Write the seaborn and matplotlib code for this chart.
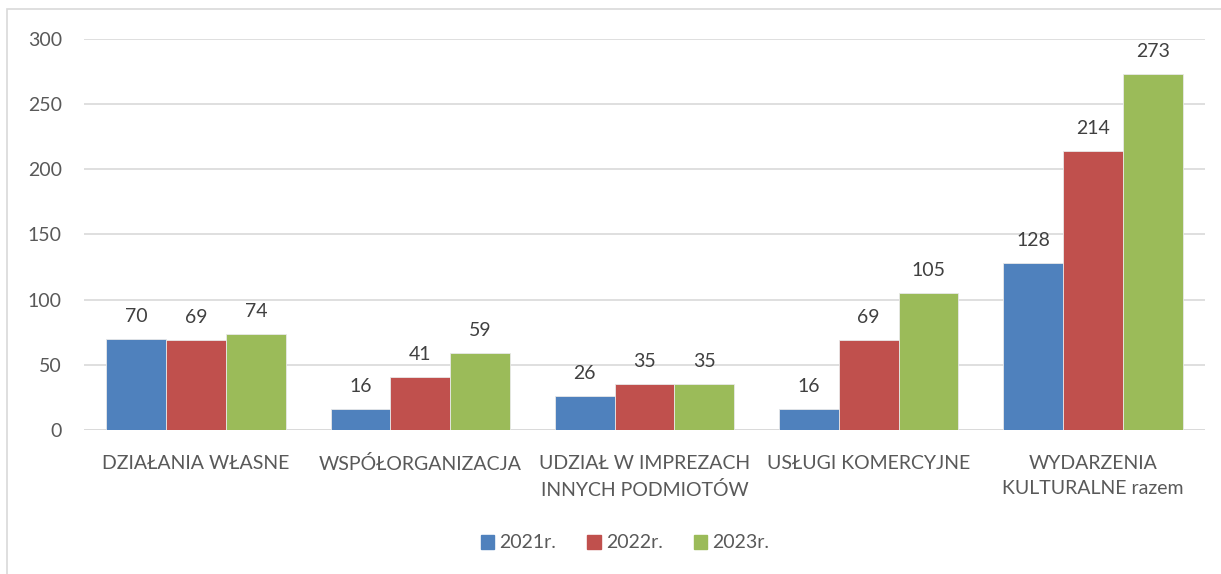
import matplotlib
matplotlib.use("Agg")
import matplotlib.pyplot as plt
import matplotlib.patches as mpatches
import pandas as pd
import seaborn as sns

# data
categories = ["DZIAŁANIA WŁASNE", "WSPÓŁORGANIZACJA", "UDZIAŁ W IMPREZACH\nINNYCH PODMIOTÓW",
              "USŁUGI KOMERCYJNE", "WYDARZENIA\nKULTURALNE razem"]
years = ["2021r.", "2022r.", "2023r."]
v2021 = [70, 16, 26, 16, 128]
v2022 = [69, 41, 35, 69, 214]
v2023 = [74, 59, 35, 105, 273]
colors = ["#4F81BD", "#C0504D", "#9BBB59"]

df = pd.DataFrame({
    "cat": categories * 3,
    "year": [years[0]] * 5 + [years[1]] * 5 + [years[2]] * 5,
    "value": v2021 + v2022 + v2023,
})

sns.set_theme(style="white")
plt.rcParams["font.family"] = ["Lato", "DejaVu Sans"]
fs = 14

fig = plt.figure(figsize=(12.21, 5.74), dpi=100)
ax = fig.add_axes([84 / 1221, 1 - 430 / 574, (1205 - 84) / 1221, (430 - 39) / 574])

# outer chart border (runs off the right / bottom of the picture)
fig.patches.append(mpatches.Rectangle((7 / 1221, -0.1), 1.2, 1 - 9 / 574 + 0.1,
                                      transform=fig.transFigure, fill=False,
                                      edgecolor="#D9D9D9", linewidth=1.2))

sns.barplot(data=df, x="cat", y="value", hue="year", palette=colors, ax=ax,
            width=0.8, saturation=1, edgecolor="#e8e8e8", linewidth=0.6, legend=False)

for c in ax.containers:
    ax.bar_label(c, padding=10, fontsize=fs, color="#404040")

ax.set_ylim(0, 300)
ax.set_xlim(-0.5, 4.5)
ax.set_yticks(range(0, 301, 50))
ax.yaxis.grid(True, color="#D9D9D9", linewidth=1.2)
ax.set_axisbelow(True)
for s in ax.spines.values():
    s.set_visible(False)
ax.axhline(0, color="#D9D9D9", linewidth=1.2, zorder=0.5)
ax.set_xlabel("")
ax.set_ylabel("")
ax.tick_params(axis="y", length=0, pad=16, labelsize=fs, labelcolor="#595959")
ax.tick_params(axis="x", length=0, pad=18, labelsize=fs, labelcolor="#595959")
for t in ax.get_xticklabels():
    t.set_linespacing(1.6)
    t.set_verticalalignment("top")

handles = [mpatches.Patch(color=c, label=y) for c, y in zip(colors, years)]
fig.legend(handles=handles, loc="center", bbox_to_anchor=(625 / 1221, 1 - 543 / 574), ncol=3,
           frameon=False, fontsize=fs, handlelength=0.7, handleheight=0.7,
           handletextpad=0.25, columnspacing=1.6, labelcolor="#595959")

fig.savefig("out.png", dpi=100)
